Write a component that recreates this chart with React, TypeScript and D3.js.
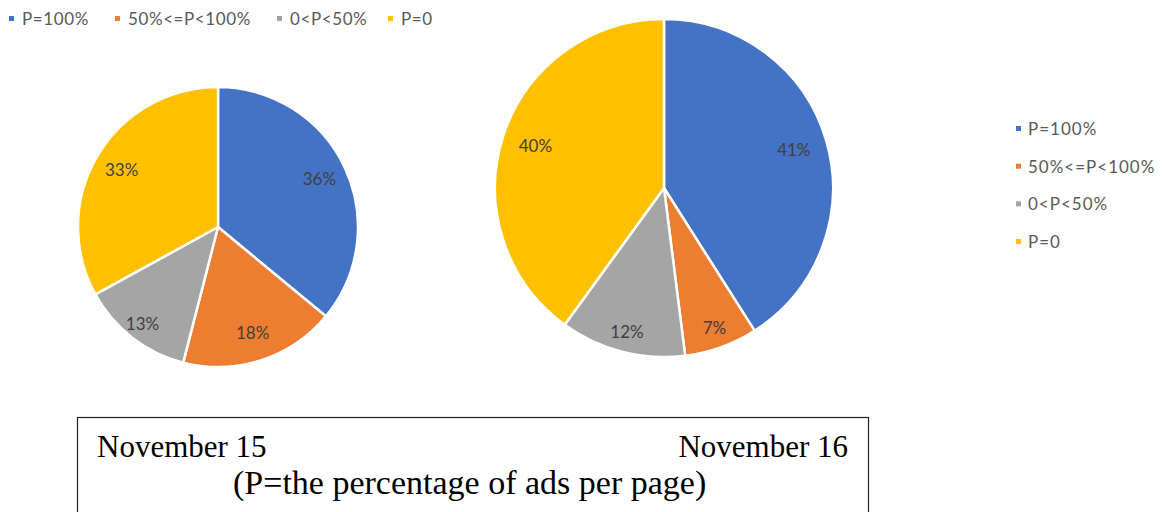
import React from 'react';
import * as d3 from 'd3';

// categories and values
const categories = ['P=100%', '50%<=P<100%', '0<P<50%', 'P=0'];
const colors = ['#4472C4', '#ED7D31', '#A5A5A5', '#FFC000'];
const nov15 = [36, 18, 13, 33];
const nov16 = [41, 7, 12, 40];
const captionDates = ['November 15', 'November 16'];
const captionNote = '(P=the percentage of ads per page)';

const width = 1163;
const height = 512;

const Pie = ({ vals, cx, cy, r }: { vals: number[]; cx: number; cy: number; r: number }) => {
  const pie = d3.pie<number>().sort(null).value(d => d);
  const arcs = pie(vals);
  const arc = d3.arc<d3.PieArcDatum<number>>().innerRadius(0).outerRadius(r);
  // small slices get their label pushed out a bit, like excel best fit
  const labelArc = (d: d3.PieArcDatum<number>) => {
    const k = d.data < 15 ? 0.88 : 0.8;
    return d3.arc<d3.PieArcDatum<number>>().innerRadius(r * k).outerRadius(r * k).centroid(d);
  };

  return (
    <g transform={`translate(${cx}, ${cy})`}>
      {arcs.map((d, i) => (
        <path key={i} d={arc(d) || ''} fill={colors[i]} stroke='white' strokeWidth={2.5} strokeLinejoin='round' />
      ))}
      {arcs.map((d, i) => {
        const [x, y] = labelArc(d);
        return (
          <text key={'l' + i} x={x} y={y} dy='0.35em' textAnchor='middle'
            fontFamily='Lato' fontSize={17} fill='#404040'>
            {d.data + '%'}
          </text>
        );
      })}
    </g>
  );
};

export default function App() {
  // top legend x positions (horizontal row)
  const topLegendX = d3.scaleOrdinal<string, number>().domain(categories).range([9, 115, 277, 388]);
  // right legend rows
  const rightLegendY = d3.scalePoint<string>().domain(categories).range([129, 242]);

  return (
    <svg width={width} height={height} viewBox={`0 0 ${width} ${height}`}
      style={{ position: 'absolute', left: 0, top: 0, background: 'white' }}>
      {/* top legend */}
      <g fontFamily='Lato' fontSize={17} fill='#595959'>
        {categories.map((c, i) => (
          <g key={c} transform={`translate(${topLegendX(c)}, 0)`}>
            <rect x={0} y={16} width={5} height={5} fill={colors[i]} />
            <text x={13} y={25} letterSpacing={0.6}>{c}</text>
          </g>
        ))}
      </g>

      <Pie vals={nov15} cx={218} cy={227} r={140} />
      <Pie vals={nov16} cx={664} cy={188} r={169} />

      {/* right legend */}
      <g fontFamily='Lato' fontSize={17} fill='#595959'>
        {categories.map((c, i) => (
          <g key={c} transform={`translate(1016, ${rightLegendY(c)})`}>
            <rect x={0} y={-3} width={5} height={5} fill={colors[i]} />
            <text x={12} y={6} letterSpacing={1}>{c}</text>
          </g>
        ))}
      </g>

      {/* caption box */}
      <rect x={77.5} y={417.5} width={791} height={110} fill='white' stroke='#222' strokeWidth={1.2} />
      <g fontFamily='Liberation Serif' fontSize={31} fill='#000'>
        <text x={97} y={457}>{captionDates[0]}</text>
        <text x={848} y={457} textAnchor='end'>{captionDates[1]}</text>
        <text x={233} y={494} fontSize={34}>{captionNote}</text>
      </g>
    </svg>
  );
}
